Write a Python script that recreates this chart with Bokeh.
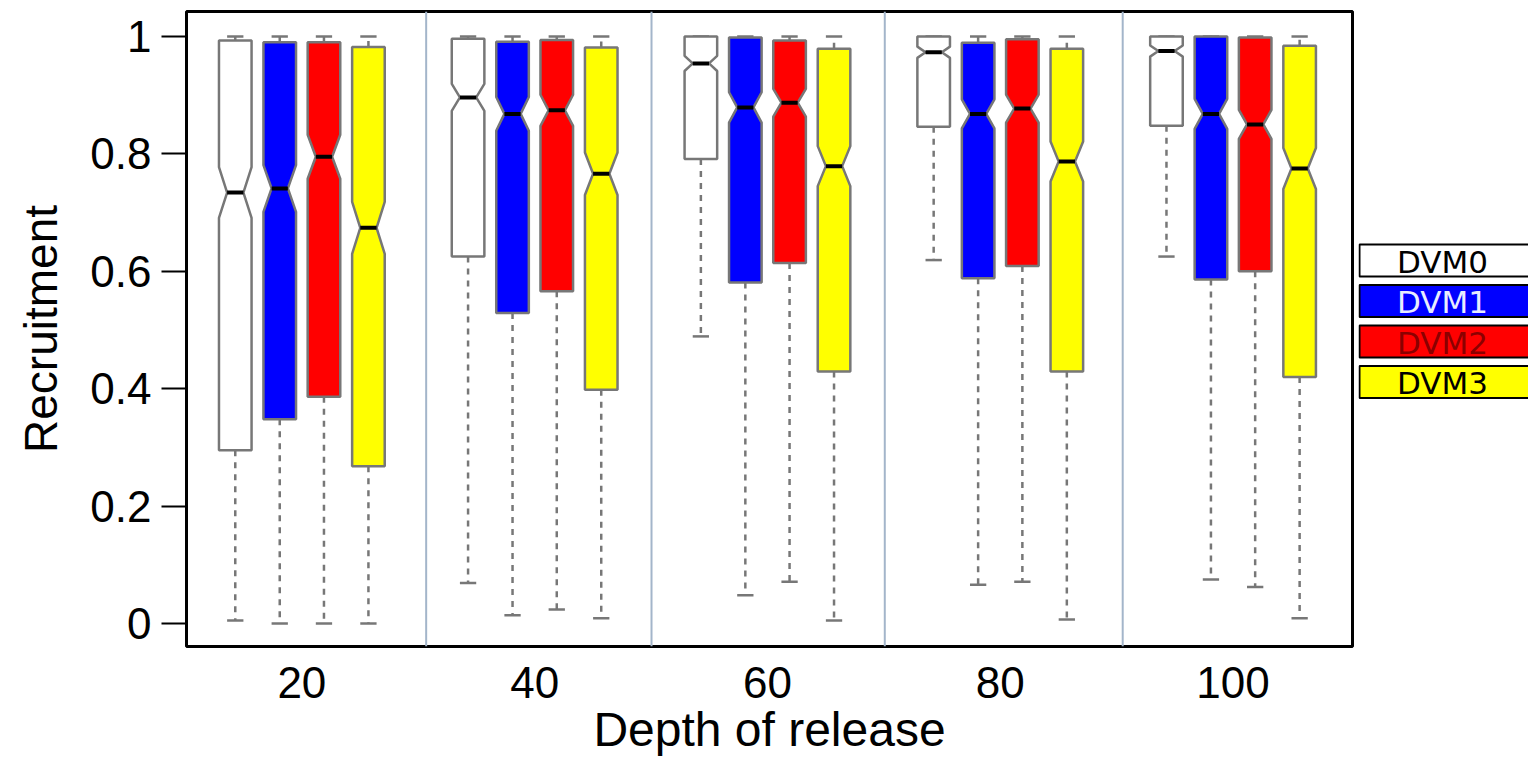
from bokeh.plotting import figure
from bokeh.models import Range1d, FixedTicker, Span, ColumnDataSource, CustomJSTickFormatter
from bokeh.layouts import row
from bokeh.embed import file_html
from bokeh.resources import INLINE
from bokeh.core.properties import value
import math

# ---------------- data ----------------
DEPTHS = ["20", "40", "60", "80", "100"]
SERIES = ["DVM0", "DVM1", "DVM2", "DVM3"]
FILLS = ["#ffffff", "#0000ff", "#ff0000", "#ffff00"]
LEGEND_TEXT = ["#000000", "#e8ecff", "#8b0000", "#000000"]

WHISKER_LOW = {
    "DVM0": [0.005, 0.069, 0.489, 0.619, 0.625],
    "DVM1": [0.000, 0.014, 0.048, 0.066, 0.075],
    "DVM2": [0.000, 0.024, 0.071, 0.071, 0.062],
    "DVM3": [0.000, 0.009, 0.005, 0.007, 0.009],
}
Q1 = {
    "DVM0": [0.295, 0.625, 0.791, 0.846, 0.848],
    "DVM1": [0.348, 0.529, 0.581, 0.588, 0.586],
    "DVM2": [0.386, 0.566, 0.614, 0.609, 0.600],
    "DVM3": [0.268, 0.398, 0.429, 0.429, 0.420],
}
MEDIAN = {
    "DVM0": [0.734, 0.896, 0.954, 0.973, 0.975],
    "DVM1": [0.741, 0.868, 0.879, 0.868, 0.868],
    "DVM2": [0.795, 0.874, 0.887, 0.877, 0.850],
    "DVM3": [0.674, 0.766, 0.779, 0.787, 0.775],
}
Q3 = {
    "DVM0": [0.993, 0.996, 1.000, 1.000, 1.000],
    "DVM1": [0.990, 0.991, 0.998, 0.989, 1.000],
    "DVM2": [0.990, 0.994, 0.993, 0.995, 0.998],
    "DVM3": [0.982, 0.981, 0.979, 0.979, 0.984],
}
WHISKER_HIGH = {
    "DVM0": [1.0, 1.0, 1.0, 1.0, 1.0],
    "DVM1": [1.0, 1.0, 1.0, 1.0, 1.0],
    "DVM2": [1.0, 1.0, 1.0, 1.0, 1.0],
    "DVM3": [1.0, 1.0, 1.0, 1.0, 1.0],
}
N_RUNS = 650  # sample size used for notch width (1.58*IQR/sqrt(n))
Y_TICKS = [0, 0.2, 0.4, 0.6, 0.8, 1.0]

# ---------------- layout constants ----------------
OFFSETS = [-0.286, -0.095, 0.095, 0.286]
HALF_W = 0.07
DIVIDERS = [1.534, 2.502, 3.504, 4.526]
FONT = "Liberation Sans"
FRAME_TOP, FRAME_BOTTOM = 11, 646

p = figure(width=1358, height=759,
           x_range=Range1d(0.5045, 5.5131), y_range=Range1d(-0.0392, 1.0424),
           output_backend="svg", toolbar_location=None,
           min_border_left=186, min_border_right=6, min_border_top=FRAME_TOP,
           min_border_bottom=759 - FRAME_BOTTOM)
p.grid.visible = False
p.outline_line_color = "black"
p.outline_line_width = 3
p.background_fill_color = "white"
p.border_fill_color = "white"

for d in DIVIDERS:
    p.add_layout(Span(location=d, dimension="height", line_color="#a3b5ca", line_width=2))

box_xs, box_ys, box_fill = [], [], []
med_x0, med_x1, med_y = [], [], []
wx, wy0, wy1 = [], [], []
cx0, cx1, cy = [], [], []
for gi in range(len(DEPTHS)):
    for si, s in enumerate(SERIES):
        xc = gi + 1 + OFFSETS[si]
        lo, q1, md, q3, hi = (WHISKER_LOW[s][gi], Q1[s][gi], MEDIAN[s][gi],
                              Q3[s][gi], WHISKER_HIGH[s][gi])
        n = 1.58 * (q3 - q1) / math.sqrt(N_RUNS)
        w = HALF_W
        box_xs.append([xc - w, xc + w, xc + w, xc + w / 2, xc + w, xc + w,
                       xc - w, xc - w, xc - w / 2, xc - w])
        box_ys.append([q1, q1, md - n, md, md + n, q3, q3, md + n, md, md - n])
        box_fill.append(FILLS[si])
        med_x0.append(xc - w / 2); med_x1.append(xc + w / 2); med_y.append(md)
        wx += [xc, xc]; wy0 += [q3, q1]; wy1 += [hi, lo]
        cx0 += [xc - w / 2, xc - w / 2]; cx1 += [xc + w / 2, xc + w / 2]; cy += [hi, lo]

p.segment(x0=wx, y0=wy0, x1=wx, y1=wy1, line_color="#777777", line_width=2.5, line_dash="6 6")
p.segment(x0=cx0, y0=cy, x1=cx1, y1=cy, line_color="#777777", line_width=2.5)
p.patches(xs=box_xs, ys=box_ys, fill_color=box_fill, line_color="#777777", line_width=2.5)
p.segment(x0=med_x0, y0=med_y, x1=med_x1, y1=med_y, line_color="black", line_width=4)

# axes
p.yaxis.ticker = FixedTicker(ticks=Y_TICKS)
p.yaxis.formatter = CustomJSTickFormatter(code="return String(Math.round(tick*10)/10);")
p.yaxis.minor_tick_line_color = None
p.yaxis.major_tick_out = 25
p.yaxis.major_tick_in = 0
p.yaxis.major_tick_line_width = 2
p.yaxis.major_tick_line_color = "black"
p.yaxis.major_label_standoff = 10
p.yaxis.axis_line_color = None
p.yaxis.axis_label = "Recruitment"
p.yaxis.axis_label_standoff = 20

p.xaxis.ticker = FixedTicker(ticks=list(range(1, len(DEPTHS) + 1)))
p.xaxis.major_label_overrides = {i + 1: d for i, d in enumerate(DEPTHS)}
p.xaxis.minor_tick_line_color = None
p.xaxis.major_tick_line_color = None
p.xaxis.major_tick_out = 0
p.xaxis.major_tick_in = 0
p.xaxis.axis_line_color = None
p.xaxis.major_label_standoff = 20
p.xaxis.axis_label = "Depth of release"
p.xaxis.axis_label_standoff = 2

for ax in (p.xaxis[0], p.yaxis[0]):
    ax.major_label_text_font = FONT
    ax.major_label_text_font_size = "44px"
    ax.major_label_text_color = "black"
    ax.axis_label_text_font = FONT
    ax.axis_label_text_font_style = "normal"
    ax.axis_label_text_color = "black"
p.yaxis.axis_label_text_font_size = "46px"
p.xaxis.axis_label_text_font_size = "48px"

# legend panel on the right (its frame is aligned with the main frame)
lf = figure(width=170, height=759, x_range=Range1d(0, 170),
            y_range=Range1d(FRAME_BOTTOM, FRAME_TOP),
            output_backend="svg", toolbar_location=None, x_axis_type=None, y_axis_type=None,
            min_border_left=0, min_border_right=0, min_border_top=FRAME_TOP,
            min_border_bottom=759 - FRAME_BOTTOM)
lf.grid.visible = False
lf.outline_line_color = None
lf.border_fill_color = "white"
lf.background_fill_color = "white"
tops = [244 + 40.5 * i for i in range(len(SERIES))]
lsrc = ColumnDataSource(dict(
    left=[1] * len(SERIES), right=[185] * len(SERIES),
    top=tops, bottom=[t + 32 for t in tops],
    fill=FILLS, label=SERIES, tcol=LEGEND_TEXT,
    tx=[84] * len(SERIES), ty=[t + 17 for t in tops]))
lf.quad(left="left", right="right", top="top", bottom="bottom", source=lsrc,
        fill_color="fill", line_color="black", line_width=2)
lf.text(x="tx", y="ty", text="label", source=lsrc, text_color="tcol",
        text_font=value("DejaVu Sans"), text_font_size="31px",
        text_align="center", text_baseline="middle")

layout = row(p, lf)
open("out.html", "w").write(file_html(layout, INLINE))
